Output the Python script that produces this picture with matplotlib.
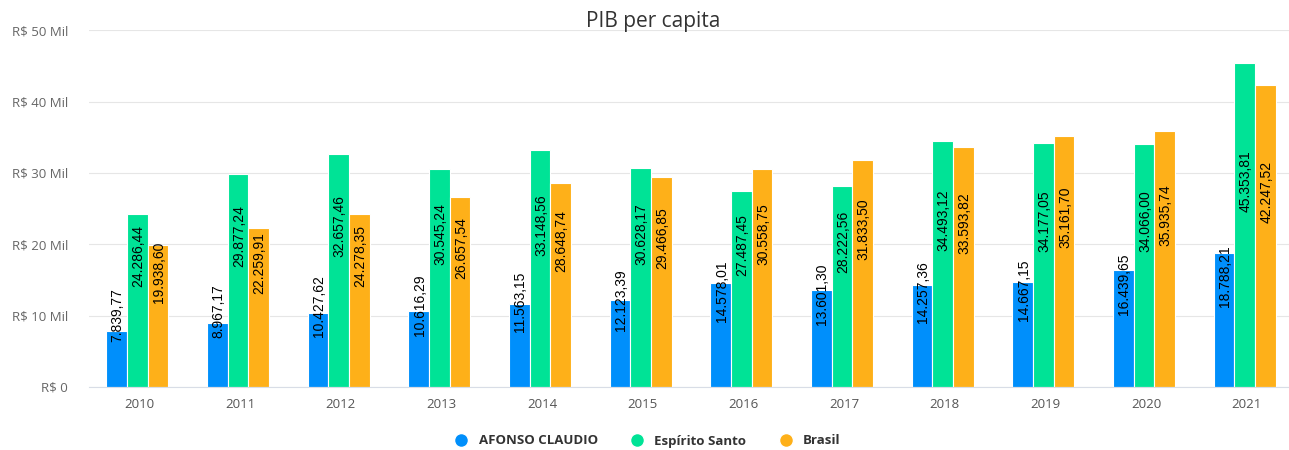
import numpy as np
import matplotlib.pyplot as plt
from matplotlib.lines import Line2D

# Dados
anos = ["2010", "2011", "2012", "2013", "2014", "2015",
        "2016", "2017", "2018", "2019", "2020", "2021"]
afonso = [7839.77, 8967.17, 10427.62, 10616.29, 11563.15, 12123.39,
          14578.01, 13601.30, 14257.36, 14667.15, 16439.65, 18788.21]
espirito_santo = [24286.44, 29877.24, 32657.46, 30545.24, 33148.56, 30628.17,
                  27487.45, 28222.56, 34493.12, 34177.05, 34066.00, 45353.81]
brasil = [19938.60, 22259.91, 24278.35, 26657.54, 28648.74, 29466.85,
          30558.75, 31833.50, 33593.82, 35161.70, 35935.74, 42247.52]

series = [("AFONSO CLAUDIO", afonso, "#008FFB"),
          ("Espírito Santo", espirito_santo, "#00E396"),
          ("Brasil", brasil, "#FEB019")]


def fmt_br(v):
    s = f"{v:,.2f}"
    return s.replace(",", "X").replace(".", ",").replace("X", ".")


fig = plt.figure(figsize=(12.89, 4.5), dpi=100)
ax = fig.add_axes([0.069, 0.14, 0.931, 0.793])

x = np.arange(len(anos))
w = 0.205
for i, (nome, vals, cor) in enumerate(series):
    pos = x + (i - 1) * w - 0.02
    ax.bar(pos, vals, width=w, color=cor, edgecolor="white", linewidth=0.8, zorder=2)
    for px, v in zip(pos, vals):
        ax.annotate(fmt_br(v), xy=(px, v / 2), xytext=(1, 44),
                    textcoords="offset pixels", rotation=90,
                    ha="center", va="center", fontsize=10,
                    family="Liberation Sans", color="black", zorder=3)

ax.set_ylim(0, 50000)
ax.set_xlim(-0.5, 11.42)
ax.set_yticks(np.arange(0, 50001, 10000))
ax.set_yticklabels(["R$ 0"] + [f"R$ {int(v/1000)} Mil" for v in range(10000, 50001, 10000)],
                   fontsize=9.5, color="#666666", family="Open Sans")
ax.set_xticks(x)
ax.set_xticklabels(anos, fontsize=9.5, color="#555555", family="Open Sans")
ax.tick_params(axis="y", length=0, pad=15)
ax.tick_params(axis="x", length=0, pad=8)
ax.grid(axis="y", color="#e6e6e6", linewidth=0.8, zorder=0)
for s in ["top", "right", "left"]:
    ax.spines[s].set_visible(False)
ax.spines["bottom"].set_color("#d8dde6")

fig.text(0.507, 0.952, "PIB per capita", ha="center", va="center",
         fontsize=15, color="#333333", family="Open Sans")

handles = [Line2D([0], [0], marker="o", color="w", markerfacecolor=c,
                  markersize=10, label=n) for n, _, c in series]
leg = fig.legend(handles=handles, loc="center", bbox_to_anchor=(0.5, 0.02),
                 ncol=3, frameon=False, handletextpad=0.3, columnspacing=2.0,
                 prop={"family": "Open Sans", "weight": "bold", "size": 9.5})
for t in leg.get_texts():
    t.set_color("#333333")

fig.savefig("out.png", dpi=100)
